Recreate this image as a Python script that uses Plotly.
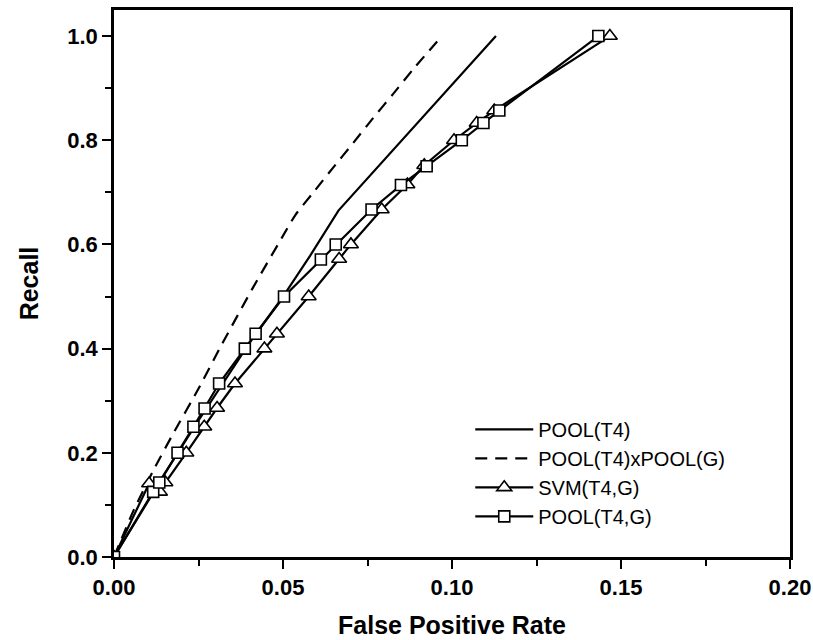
import plotly.graph_objects as go

# POOL(T4) - solid
pool_t4_x = [0.0, 0.012, 0.025, 0.040, 0.050, 0.058, 0.0664, 0.113]
pool_t4_y = [0.0, 0.130, 0.262, 0.410, 0.500, 0.578, 0.665, 1.000]

# POOL(T4)xPOOL(G) - dashed
pxp_x = [0.0, 0.0057, 0.0121, 0.0171, 0.0249, 0.0314, 0.0412, 0.0496, 0.0536,
         0.059, 0.0649, 0.0708, 0.0767, 0.0826, 0.0886, 0.097]
pxp_y = [0.0, 0.088, 0.172, 0.232, 0.322, 0.402, 0.518, 0.612, 0.656,
         0.700, 0.748, 0.795, 0.843, 0.889, 0.937, 1.000]

# SVM(T4,G) - triangles
svm_x = [0.0, 0.0104, 0.0136, 0.0152, 0.0214, 0.0267, 0.0305, 0.0358, 0.0445,
         0.0482, 0.0576, 0.0666, 0.0701, 0.0792, 0.0868, 0.0918, 0.1006, 0.1073,
         0.1125, 0.1467]
svm_y = [0.0, 0.141, 0.125, 0.143, 0.200, 0.250, 0.286, 0.333, 0.400,
         0.4285, 0.500, 0.572, 0.600, 0.667, 0.715, 0.752, 0.800, 0.833,
         0.857, 1.000]

# POOL(T4,G) - squares
pg_x = [0.0, 0.0116, 0.0134, 0.0188, 0.0235, 0.0268, 0.0311, 0.0387, 0.0419,
        0.0503, 0.0612, 0.0656, 0.0762, 0.0849, 0.0925, 0.1029, 0.1093, 0.114,
        0.1433]
pg_y = [0.0, 0.125, 0.143, 0.200, 0.250, 0.285, 0.333, 0.400, 0.4285,
        0.500, 0.571, 0.600, 0.667, 0.714, 0.750, 0.800, 0.833, 0.857,
        1.000]

x_ticks = [0.0, 0.05, 0.10, 0.15, 0.20]
x_ticklabels = ["0.00", "0.05", "0.10", "0.15", "0.20"]
y_ticks = [0.0, 0.2, 0.4, 0.6, 0.8, 1.0]
y_ticklabels = ["0.0", "0.2", "0.4", "0.6", "0.8", "1.0"]

FONT = "Liberation Sans, Arial, sans-serif"

fig = go.Figure()
fig.add_trace(go.Scatter(x=pool_t4_x, y=pool_t4_y, mode="lines", name="POOL(T4)",
                         line=dict(color="black", width=2.2), legendgroup="a"))
fig.add_trace(go.Scatter(x=pxp_x, y=pxp_y, mode="lines", name="POOL(T4)xPOOL(G)",
                         line=dict(color="black", width=2.2, dash="12px,8px",
                                   shape="spline", smoothing=0.6),
                         legendgroup="b"))
fig.add_trace(go.Scatter(x=svm_x, y=svm_y, mode="lines+markers", name="SVM(T4,G)",
                         line=dict(color="black", width=2.2),
                         marker=dict(symbol="triangle-up", size=13, color="white",
                                     line=dict(color="black", width=1.6)),
                         legendgroup="c"))
fig.add_trace(go.Scatter(x=pg_x, y=pg_y, mode="lines+markers", name="POOL(T4,G)",
                         line=dict(color="black", width=2.2),
                         marker=dict(symbol="square", size=11, color="white",
                                     line=dict(color="black", width=1.6)),
                         legendgroup="d"))

axis_common = dict(
    showgrid=False, zeroline=False, showline=True, linecolor="black", linewidth=2.5,
    mirror=True, ticks="outside", ticklen=9, tickwidth=2.2, tickcolor="black",
    automargin=False,
    tickfont=dict(family=FONT, size=22, color="black", weight="bold"),
)

fig.update_xaxes(**axis_common, range=[0, 0.2], tickvals=x_ticks, ticktext=x_ticklabels,
                 minor=dict(tickvals=[0.025, 0.075, 0.125, 0.175], ticklen=6,
                            tickwidth=2, tickcolor="black", ticks="outside"),
                 title=dict(text="False Positive Rate", standoff=18,
                            font=dict(family=FONT, size=25, color="black", weight="bold")))
fig.update_yaxes(**axis_common, range=[0, 1.05], tickvals=y_ticks, ticktext=y_ticklabels,
                 minor=dict(tickvals=[0.1, 0.3, 0.5, 0.7, 0.9], ticklen=6,
                            tickwidth=2, tickcolor="black", ticks="outside"),
                 title=dict(text="Recall", standoff=22,
                            font=dict(family=FONT, size=25, color="black", weight="bold")))

fig.update_layout(
    width=813, height=640,
    margin=dict(l=114, r=23, t=10, b=83, autoexpand=False),
    paper_bgcolor="white", plot_bgcolor="white",
    legend=dict(x=0.527, y=0.269, xanchor="left", yanchor="top", itemwidth=58,
                font=dict(family=FONT, size=20, color="black"),
                bgcolor="rgba(0,0,0,0)", tracegroupgap=6, traceorder="normal"),
    showlegend=True,
)

fig.write_html("out.html")
